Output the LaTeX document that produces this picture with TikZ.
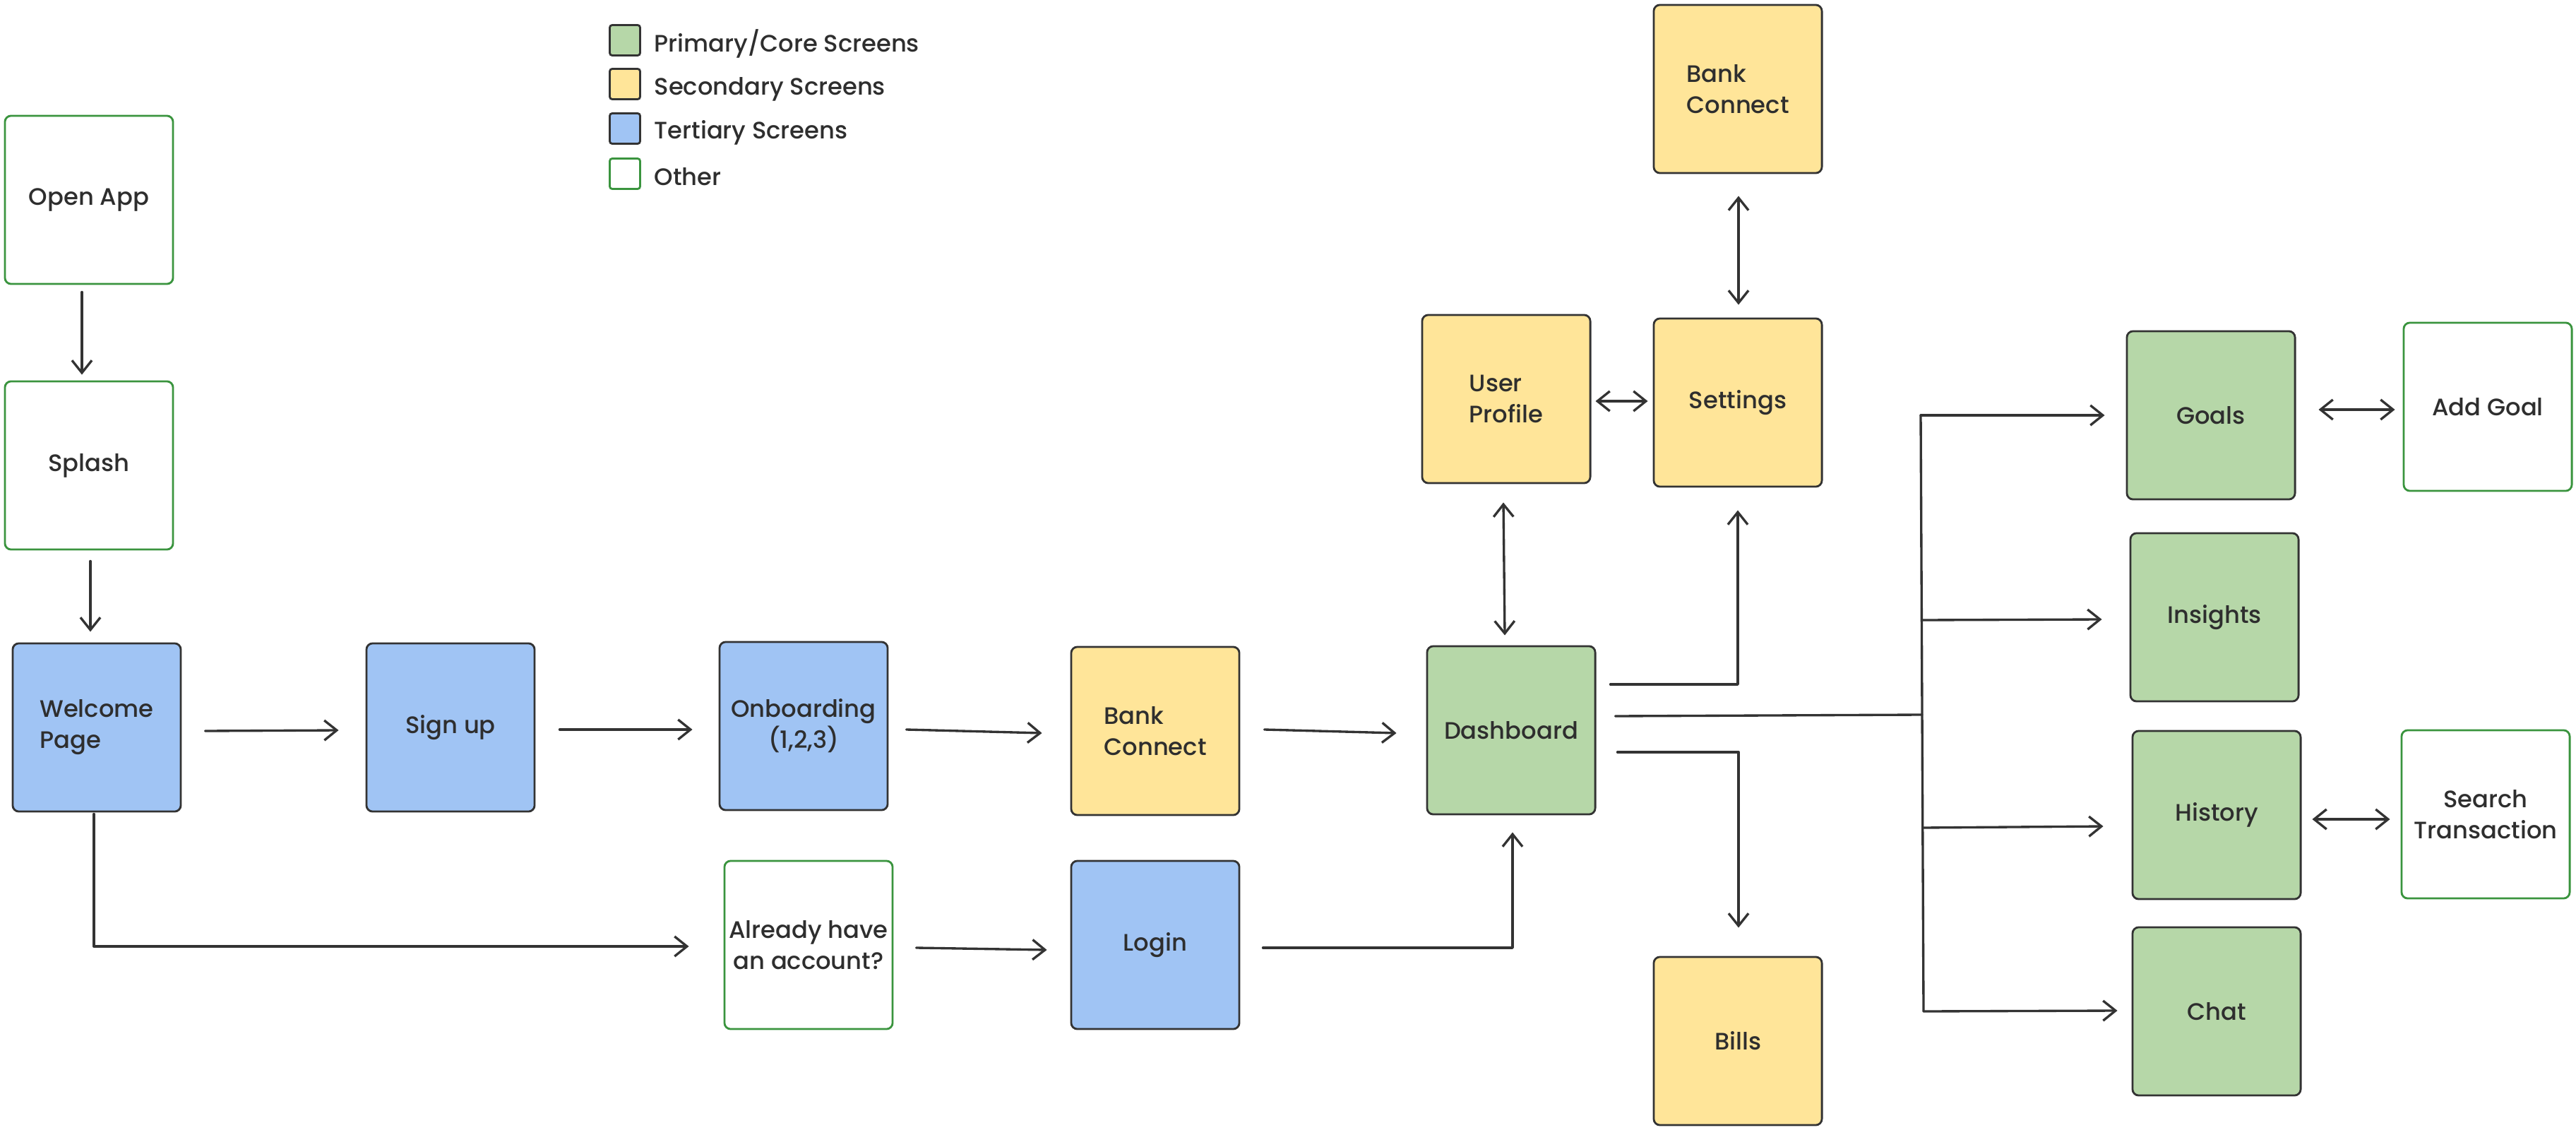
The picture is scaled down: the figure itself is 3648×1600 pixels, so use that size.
\documentclass[tikz,border=0pt]{standalone}
\usepackage{fontspec}
\setmainfont{Poppins}[UprightFont={* Medium}]
\usetikzlibrary{arrows.meta}
\definecolor{strokec}{HTML}{333333}
\definecolor{textc}{HTML}{2E2E2E}
\definecolor{primc}{HTML}{B6D7A8}
\definecolor{secc}{HTML}{FFE599}
\definecolor{terc}{HTML}{A0C4F4}
\definecolor{othc}{HTML}{3A943E}
\tikzset{
  box/.style={draw=strokec, line width=0.8pt, rounded corners=2.5pt, minimum width=2.38cm, minimum height=2.38cm, inner sep=0pt, font=\fontsize{9.6}{12.5}\selectfont, text=textc, align=center},
  prim/.style={box, fill=primc},
  sec/.style={box, fill=secc},
  ter/.style={box, fill=terc},
  oth/.style={box, draw=othc, fill=white},
  lsq/.style={draw=strokec, line width=0.8pt, rounded corners=1pt, minimum size=0.43cm, inner sep=0pt},
  ltext/.style={font=\fontsize{9.6}{12.5}\selectfont, text=textc, inner sep=0pt},
  wire/.style={draw=strokec, line width=0.95pt, line cap=round, line join=round},
  arr/.style={wire, -{Straight Barb[length=5pt,width=8pt]}},
  dbl/.style={wire, {Straight Barb[length=5pt,width=8pt]}-{Straight Barb[length=5pt,width=8pt]}}
}
\begin{document}
\begin{tikzpicture}[x=0.01cm,y=-0.01cm]
\useasboundingbox (0,0) rectangle (3648,1600);
% legend
\node[lsq, fill=primc] (l1) at (885,57) {};
\node[lsq, fill=secc] (l2) at (885,119) {};
\node[lsq, fill=terc] (l3) at (885,182) {};
\node[lsq, draw=othc, fill=white] (l4) at (885,246) {};
\node[ltext, anchor=base west] (t1) at (926,74) {Primary/Core Screens};
\node[ltext, anchor=base west] (t2) at (926,135) {Secondary Screens};
\node[ltext, anchor=base west] (t3) at (926,197) {Tertiary Screens};
\node[ltext, anchor=base west] (t4) at (926,262) {Other};
% boxes
\node[oth] (open) at (126,283) {Open App};
\node[oth] (splash) at (126,659) {Splash};
\node[ter, align=left] (welcome) at (137,1030) {Welcome\\Page};
\node[ter] (signup) at (638,1030) {Sign up};
\node[ter] (onb) at (1138,1028) {Onboarding\\(1,2,3)};
\node[sec, align=left] (bank1) at (1636,1035) {Bank\\Connect};
\node[oth] (already) at (1145,1338) {Already have\\an account?};
\node[ter] (login) at (1636,1338) {Login};
\node[prim] (dash) at (2140,1034) {Dashboard};
\node[sec, align=left] (profile) at (2133,565) {User\\Profile};
\node[sec] (settings) at (2461,570) {Settings};
\node[sec, align=left] (bank2) at (2461,126) {Bank\\Connect};
\node[sec] (bills) at (2461,1474) {Bills};
\node[prim] (goals) at (3131,588) {Goals};
\node[prim] (insights) at (3136,874) {Insights};
\node[prim] (history) at (3139,1154) {History};
\node[prim] (chat) at (3139,1432) {Chat};
\node[oth] (addgoal) at (3523,576) {Add Goal};
\node[oth] (search) at (3520,1153) {Search\\Transaction};
% connectors
\draw[arr] ([shift={(-10,10)}]open.south) -- ([shift={(-10,-8)}]splash.north);
\draw[arr] ([shift={(2,15)}]splash.south) -- ([shift={(-9,-15)}]welcome.north);
\draw[arr] ([shift={(33,5)}]welcome.east) -- ([shift={(-38,4)}]signup.west);
\draw[arr] ([shift={(34,3)}]signup.east) -- ([shift={(-37,5)}]onb.west);
\draw[arr] ([shift={(25,5)}]onb.east) -- ([shift={(-40,3)}]bank1.west);
\draw[arr] ([shift={(34,-2)}]bank1.east) -- ([shift={(-42,4)}]dash.west);
\draw[arr] ([shift={(-4,2)}]welcome.south) |- ([shift={(-49,2)}]already.west);
\draw[arr] ([shift={(32,4)}]already.east) -- ([shift={(-33,7)}]login.west);
\draw[arr] ([shift={(32,4)}]login.east) -| ([shift={(2,24)}]dash.south);
\draw[dbl] ([shift={(-4,26)}]profile.south) -- ([shift={(-9,-14)}]dash.north);
\draw[dbl] ([shift={(6,3)}]profile.east) -- ([shift={(-7,-2)}]settings.west);
\draw[dbl] ([shift={(1,31)}]bank2.south) -- ([shift={(1,-18)}]settings.north);
\draw[arr] ([shift={(20,-65)}]dash.east) -| ([shift={(0,32)}]settings.south);
\draw[arr] ([shift={(30,31)}]dash.east) -| ([shift={(1,-40)}]bills.north);
% branch
\coordinate (bt) at (2720,588);
\coordinate (bi) at (2722,878);
\coordinate (bj) at (2722,1012);
\coordinate (bh) at (2723,1172);
\coordinate (bb) at (2724,1432);
\draw[wire] (bt) -- (bb);
\draw[wire] ([shift={(27,-20)}]dash.east) -- (bj);
\draw[arr] (bt) -- ([shift={(-30,0)}]goals.west);
\draw[arr] (bi) -- ([shift={(-39,3)}]insights.west);
\draw[arr] (bh) -- ([shift={(-40,16)}]history.west);
\draw[arr] (bb) -- ([shift={(-20,-1)}]chat.west);
\draw[dbl] ([shift={(32,-8)}]goals.east) -- ([shift={(-11,4)}]addgoal.west);
\draw[dbl] ([shift={(15,6)}]history.east) -- ([shift={(-15,7)}]search.west);
\end{tikzpicture}
\end{document}
